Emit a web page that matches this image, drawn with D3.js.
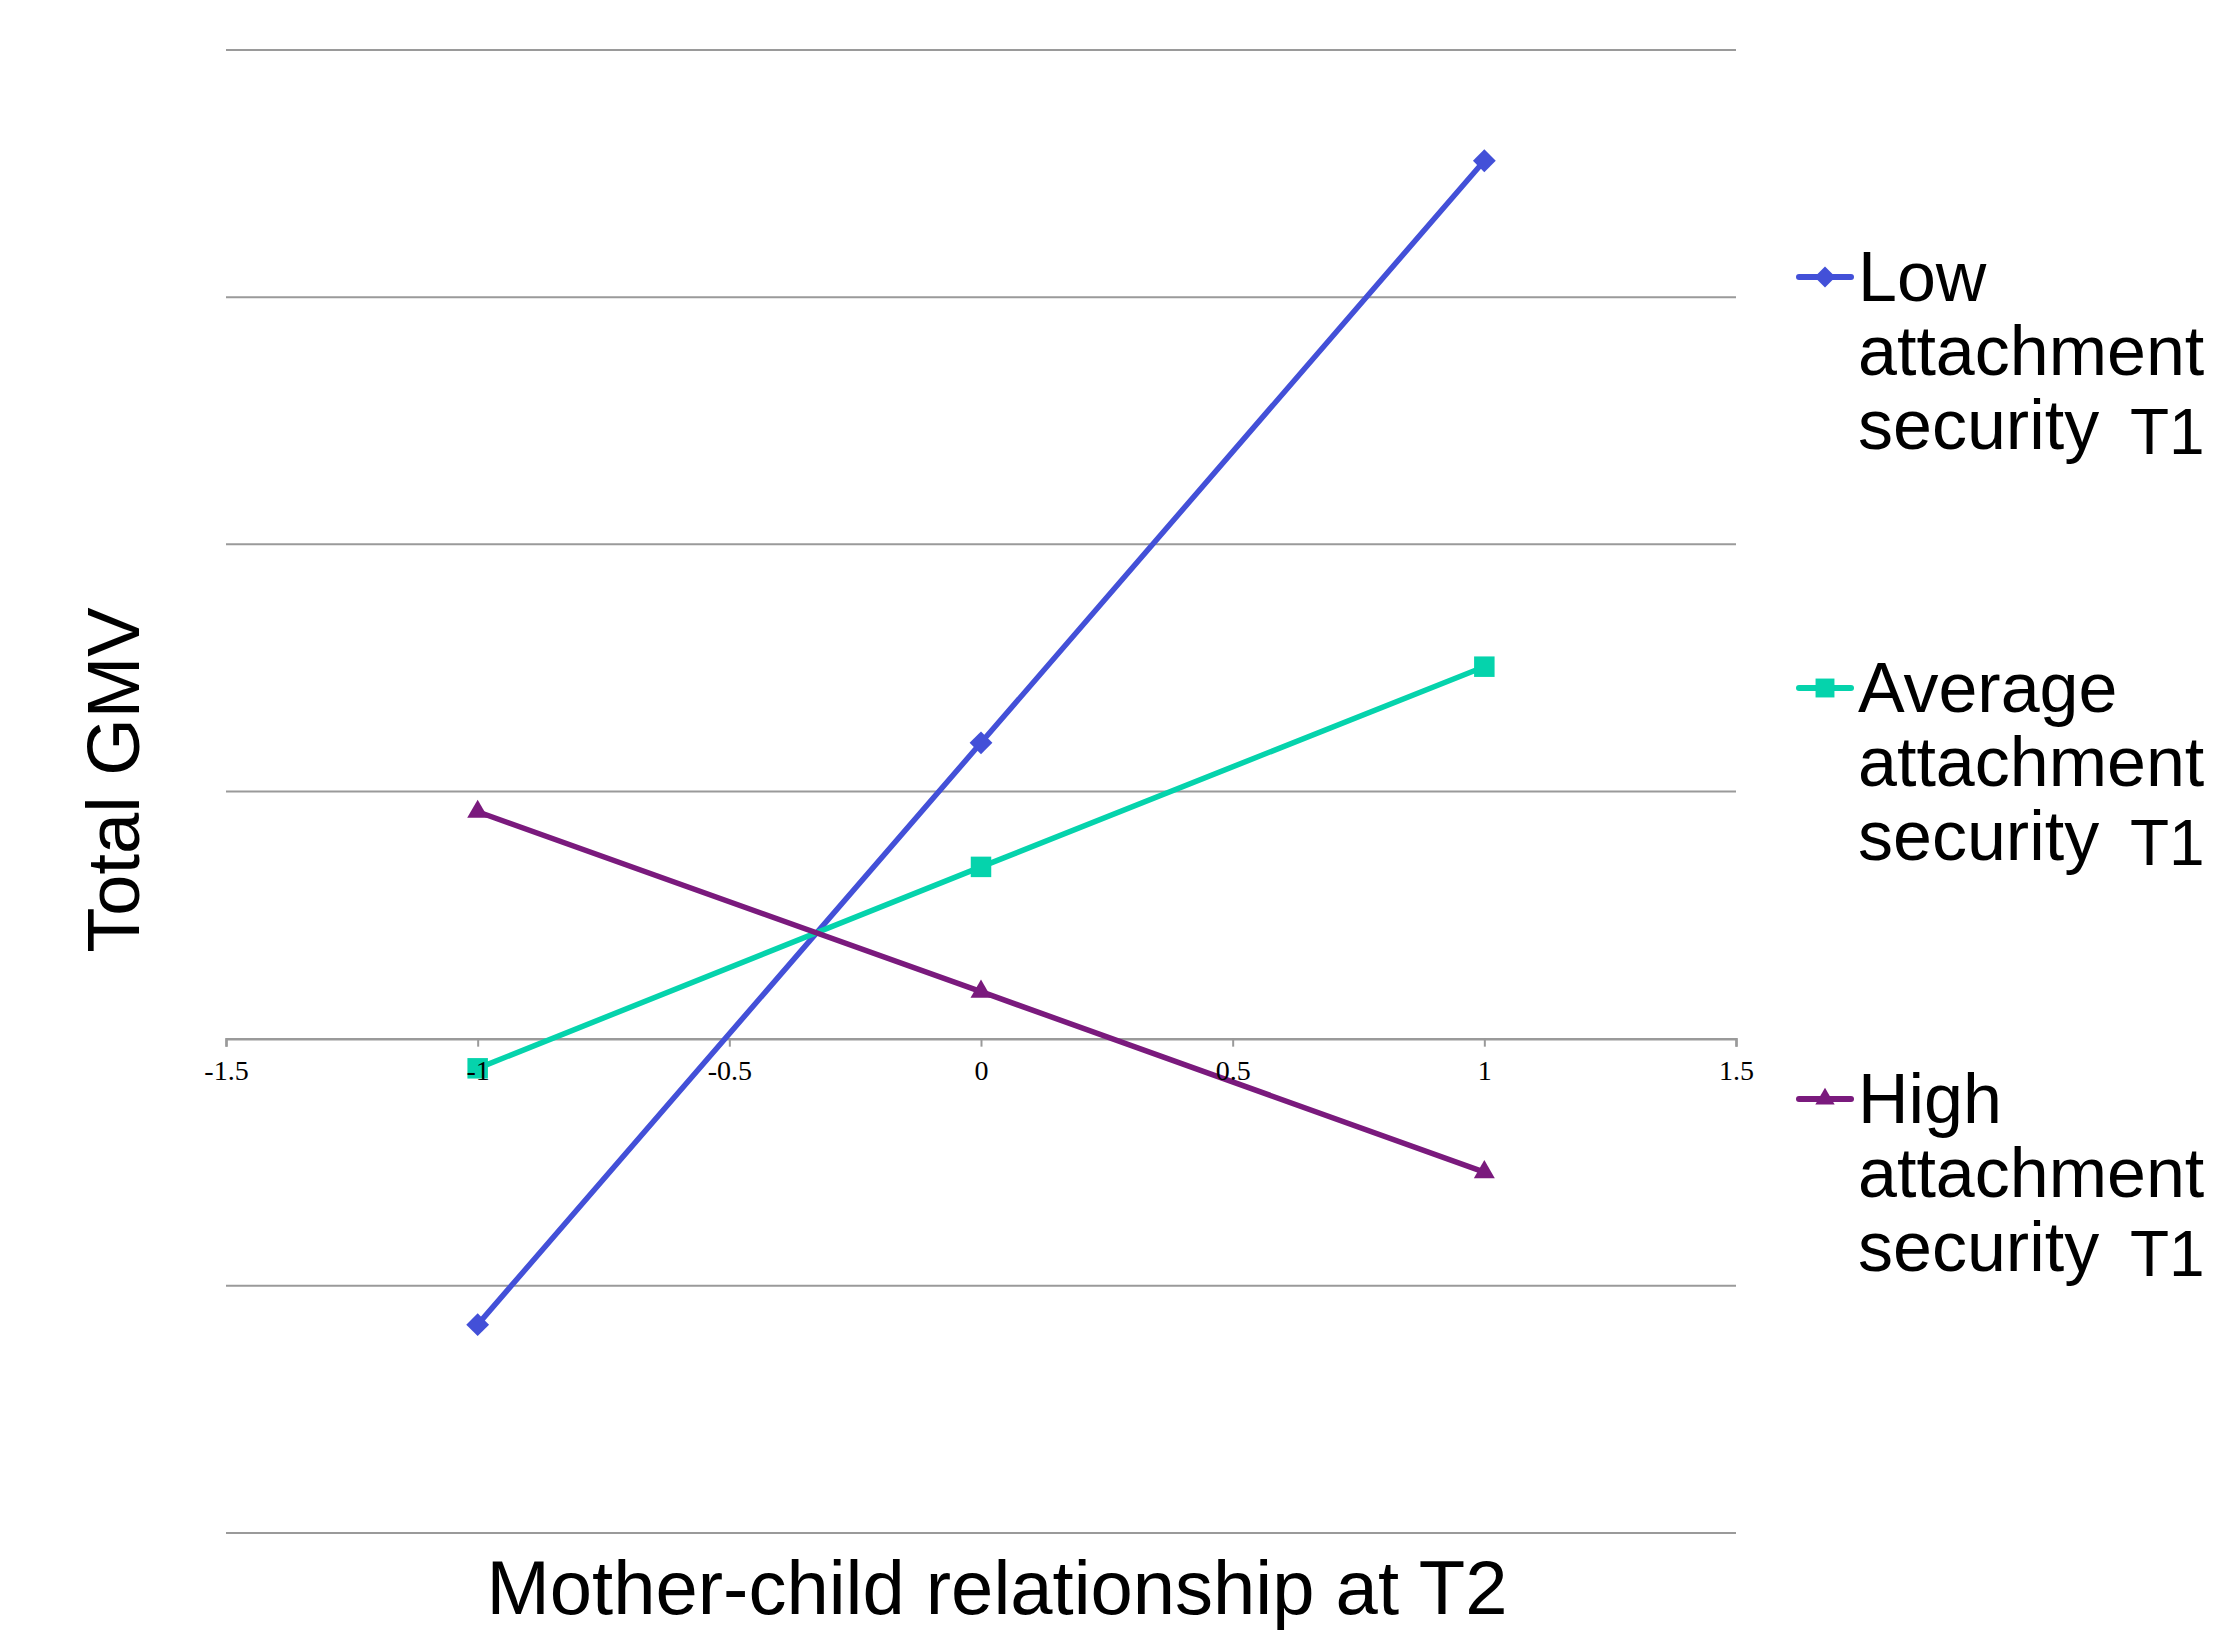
<!DOCTYPE html>
<html>
<head>
<meta charset="utf-8">
<script src="https://cdn.jsdelivr.net/npm/d3@7"></script>
<style>
  html, body { margin: 0; padding: 0; background: #fff; }
  svg { display: block; }
</style>
</head>
<body>
<script>
// ---- data ----
const xValues = [-1, 0, 1];
const lowValues = [-1.157, 1.197, 3.552];
const averageValues = [-0.12, 0.695, 1.505];
const highValues = [0.918, 0.19, -0.54];
const seriesNames = ["Low", "Average", "High"];
const xTicks = [-1.5, -1, -0.5, 0, 0.5, 1, 1.5];
const yGridValues = [-2, -1, 1, 2, 3, 4];
const xTitle = "Mother-child relationship at T2";
const yTitle = "Total GMV";

const W = 2215, H = 1632;
const colors = { Low: "#4350D8", Average: "#05D3AC", High: "#7A1A7D" };
const symbols = { Low: "diamond", Average: "square", High: "triangle" };
const seriesValues = { Low: lowValues, Average: averageValues, High: highValues };

const svg = d3.select("body").append("svg").attr("width", W).attr("height", H);
svg.append("rect").attr("width", W).attr("height", H).attr("fill", "#fff");

const x = d3.scaleLinear().domain([-1.5, 1.5]).range([226, 1736]);
const y = d3.scaleLinear().domain([-2, 4]).range([1533, 50]);

// gridlines
svg.append("g").selectAll("line").data(yGridValues).join("line")
  .attr("x1", x(-1.5)).attr("x2", x(1.5))
  .attr("y1", d => y(d)).attr("y2", d => y(d))
  .attr("stroke", "#9a9a9a").attr("stroke-width", 2);

// x axis at y = 0 (line + ticks)
const xAxis = d3.axisBottom(x).tickValues(xTicks).tickSize(8).tickPadding(13)
  .tickFormat(d => String(d));
const gx = svg.append("g").attr("transform", `translate(0,${y(0)})`).call(xAxis);
gx.select(".domain").attr("stroke", "#9a9a9a").attr("stroke-width", 2.5);
gx.selectAll(".tick line").attr("stroke", "#9a9a9a").attr("stroke-width", 2);
gx.selectAll(".tick text").remove();

// axis titles
svg.append("text").attr("x", 997).attr("y", 1614).attr("text-anchor", "middle")
  .attr("font-family", "'Liberation Sans', Arial, Helvetica, sans-serif").attr("font-size", 76)
  .attr("fill", "#000").text(xTitle);
svg.append("text").attr("transform", `translate(139,780) rotate(-90)`).attr("text-anchor", "middle")
  .attr("font-family", "'Liberation Sans', Arial, Helvetica, sans-serif").attr("font-size", 74)
  .attr("fill", "#000").text(yTitle);

function markerPath(kind, scale) {
  if (kind === "diamond") return d3.symbol().type(d3.symbolSquare).size(260 * scale)();
  if (kind === "square") return d3.symbol().type(d3.symbolSquare).size(420 * scale)();
  return d3.symbol().type(d3.symbolTriangle).size(190 * scale)();
}

// series
const line = d3.line().x(d => x(d[0])).y(d => y(d[1]));
seriesNames.forEach(name => {
  const pts = xValues.map((xv, i) => [xv, seriesValues[name][i]]);
  const g = svg.append("g");
  g.append("path").attr("d", line(pts)).attr("fill", "none")
    .attr("stroke", colors[name]).attr("stroke-width", 5.5);
  g.selectAll("path.m").data(pts).join("path").attr("class", "m")
    .attr("d", markerPath(symbols[name], 1))
    .attr("transform", d => `translate(${x(d[0])},${y(d[1])})` + (symbols[name] === "diamond" ? " rotate(45)" : ""))
    .attr("fill", colors[name]);
});

// tick labels drawn on top of the marks
const gxLabels = svg.append("g").attr("transform", `translate(0,${y(0)})`).call(xAxis);
gxLabels.select(".domain").remove();
gxLabels.selectAll(".tick line").remove();
gxLabels.selectAll(".tick text").attr("font-family", "'Liberation Serif', 'Times New Roman', serif")
  .attr("font-size", 28).attr("fill", "#000");

// legend
const legendY = { Low: 277, Average: 688, High: 1099 };
const legendFont = "'Liberation Sans', Arial, Helvetica, sans-serif";
seriesNames.forEach(name => {
  const ly = legendY[name];
  const g = svg.append("g");
  g.append("line").attr("x1", 1799).attr("x2", 1851).attr("y1", ly).attr("y2", ly)
    .attr("stroke", colors[name]).attr("stroke-width", 6).attr("stroke-linecap", "round");
  g.append("path").attr("d", markerPath(symbols[name], 0.85))
    .attr("transform", `translate(1825,${ly})` + (symbols[name] === "diamond" ? " rotate(45)" : ""))
    .attr("fill", colors[name]);
  const t = g.append("text").attr("font-family", legendFont).attr("font-size", 70).attr("fill", "#000");
  t.append("tspan").attr("x", 1858).attr("y", ly + 24).text(name);
  t.append("tspan").attr("x", 1858).attr("y", ly + 98).text("attachment");
  t.append("tspan").attr("x", 1858).attr("y", ly + 172).text("security");
  t.append("tspan").attr("x", 2130).attr("y", ly + 177).attr("font-size", 64).text("T1");
});
</script>
</body>
</html>
